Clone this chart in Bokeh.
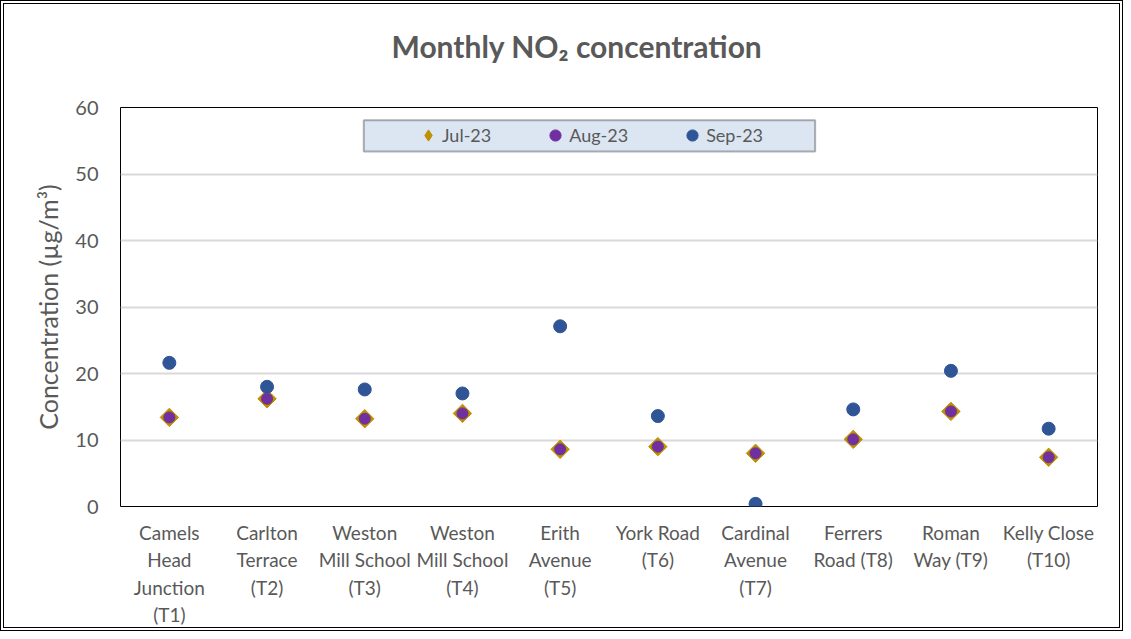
from bokeh.plotting import figure
from bokeh.models import Range1d, FixedTicker, BoxAnnotation, Legend, LegendItem, Title
from bokeh.embed import file_html
from bokeh.resources import INLINE
import math

sites = ["Camels\nHead\nJunction\n(T1)", "Carlton\nTerrace\n(T2)", "Weston\nMill School\n(T3)",
         "Weston\nMill School\n(T4)", "Erith\nAvenue\n(T5)", "York Road\n(T6)",
         "Cardinal\nAvenue\n(T7)", "Ferrers\nRoad (T8)", "Roman\nWay (T9)", "Kelly Close\n(T10)"]
jul_23 = [13.4, 16.2, 13.2, 14.0, 8.6, 9.0, 8.0, 10.1, 14.3, 7.4]
aug_23 = [13.4, 16.2, 13.2, 14.0, 8.6, 9.0, 8.0, 10.1, 14.3, 7.4]
sep_23 = [21.6, 18.0, 17.6, 17.0, 27.1, 13.6, 0.4, 14.6, 20.4, 11.7]
y_ticks = [0, 10, 20, 30, 40, 50, 60]
title_text = "Monthly NO\u2082 concentration"

FONT = "Lato"
GREY = "#595959"
xs = list(range(1, len(sites) + 1))

p = figure(width=1123, height=631, output_backend="svg", toolbar_location=None,
           x_range=Range1d(0.5, len(sites) + 0.5), y_range=Range1d(0, 60),
           min_border_left=116, min_border_right=30, min_border_top=103, min_border_bottom=129)
p.styles = {"border": "4px double black"}

p.title.text = title_text
p.title.text_font = FONT
p.title.text_font_size = "30px"
p.title.text_font_style = "bold"
p.title.text_color = GREY
p.title.align = "left"
p.title.offset = 271
p.title.standoff = 10

# spacer between the frame and the title, so the title sits higher
spacer = Title(text=" ", text_font_size="1px", standoff=36)
p.add_layout(spacer, "above")

p.outline_line_color = "black"
p.outline_line_width = 1
p.xgrid.grid_line_color = None
p.ygrid.grid_line_color = "#d9d9d9"
p.ygrid.grid_line_width = 2
p.ygrid.ticker = FixedTicker(ticks=y_ticks)

p.yaxis.ticker = FixedTicker(ticks=y_ticks)
p.yaxis.axis_line_color = None
p.yaxis.major_tick_line_color = None
p.yaxis.major_tick_out = 0
p.yaxis.major_tick_in = 0
p.yaxis.minor_tick_line_color = None
p.yaxis.major_label_text_font = FONT
p.yaxis.major_label_text_font_size = "20px"
p.yaxis.major_label_text_color = GREY
p.yaxis.major_label_standoff = 22
p.yaxis.axis_label = "Concentration (\u00b5g/m\u00b3)"
p.yaxis.axis_label_text_font = FONT
p.yaxis.axis_label_text_font_size = "25px"
p.yaxis.axis_label_text_font_style = "normal"
p.yaxis.axis_label_text_color = GREY
p.yaxis.axis_label_standoff = 9

p.xaxis.ticker = FixedTicker(ticks=xs)
p.xaxis.major_label_overrides = {x: s for x, s in zip(xs, sites)}
p.xaxis.axis_line_color = None
p.xaxis.major_tick_line_color = None
p.xaxis.major_tick_out = 0
p.xaxis.major_tick_in = 0
p.xaxis.minor_tick_line_color = None
p.xaxis.major_label_text_font = FONT
p.xaxis.major_label_text_font_size = "19px"
p.xaxis.major_label_text_color = GREY
p.xaxis.major_label_standoff = 14

box = BoxAnnotation(left=2.99, right=7.61, bottom=53.4, top=58.1,
                    fill_color="#DCE6F2", fill_alpha=1, line_color="black", line_width=2)
p.add_layout(box)

r_jul = p.scatter(xs, jul_23, marker="square", angle=math.pi / 4, size=13,
                  fill_color="#BF9000", line_color="#BF9000")
r_aug = p.scatter(xs, aug_23, marker="circle", size=11,
                  fill_color="#7030A0", line_color="#7030A0")
r_sep = p.scatter(xs, sep_23, marker="circle", size=13,
                  fill_color="#2F5597", line_color="#2F5597")
# hidden twin of the July series, used only for its diamond legend key
r_jul_key = p.scatter(xs, jul_23, marker="diamond", size=18, visible=False,
                      fill_color="#BF9000", line_color="#BF9000")

legend = Legend(items=[LegendItem(label="Jul-23", renderers=[r_jul_key]),
                       LegendItem(label="Aug-23", renderers=[r_aug]),
                       LegendItem(label="Sep-23", renderers=[r_sep])],
                orientation="horizontal", location=(294, 357),
                padding=0, margin=0, spacing=50, glyph_width=28, glyph_height=28,
                label_standoff=-3, label_text_font=FONT, label_text_font_size="18px",
                label_text_color=GREY, background_fill_alpha=0, border_line_color=None)
p.add_layout(legend, "center")

open("out.html", "w").write(file_html(p, INLINE))
